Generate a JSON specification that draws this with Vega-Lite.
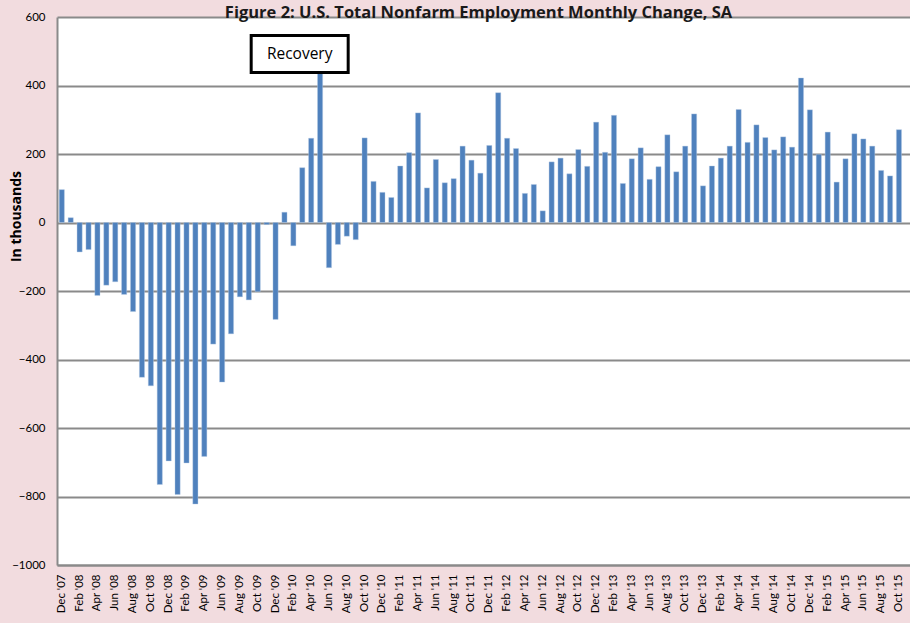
{
  "$schema": "https://vega.github.io/schema/vega-lite/v6.json",
  "width": 853,
  "height": 548,
  "autosize": {"type": "none"},
  "padding": {"left": 57, "top": 17, "right": 0, "bottom": 58},
  "background": "#F2DCDF",
  "config": {
    "font": "Lato",
    "view": {"stroke": null, "fill": "white"}
  },
  "title": {
    "text": "Figure 2: U.S. Total Nonfarm Employment Monthly Change, SA",
    "font": "Open Sans",
    "fontSize": 16.5,
    "fontWeight": "bold",
    "color": "#1a1a1a",
    "anchor": "middle",
    "offset": -7,
    "dy": 3,
    "dx": -5
  },
  "datasets": {
    "jobs": [
      {"m": "Dec '07", "v": 96},
      {"m": "Jan '08", "v": 14},
      {"m": "Feb '08", "v": -86},
      {"m": "Mar '08", "v": -79},
      {"m": "Apr '08", "v": -213},
      {"m": "May '08", "v": -183},
      {"m": "Jun '08", "v": -173},
      {"m": "Jul '08", "v": -210},
      {"m": "Aug '08", "v": -260},
      {"m": "Sep '08", "v": -452},
      {"m": "Oct '08", "v": -477},
      {"m": "Nov '08", "v": -765},
      {"m": "Dec '08", "v": -696},
      {"m": "Jan '09", "v": -794},
      {"m": "Feb '09", "v": -702},
      {"m": "Mar '09", "v": -822},
      {"m": "Apr '09", "v": -683},
      {"m": "May '09", "v": -355},
      {"m": "Jun '09", "v": -466},
      {"m": "Jul '09", "v": -325},
      {"m": "Aug '09", "v": -217},
      {"m": "Sep '09", "v": -226},
      {"m": "Oct '09", "v": -202},
      {"m": "Nov '09", "v": -6},
      {"m": "Dec '09", "v": -283},
      {"m": "Jan '10", "v": 30},
      {"m": "Feb '10", "v": -68},
      {"m": "Mar '10", "v": 160},
      {"m": "Apr '10", "v": 246},
      {"m": "May '10", "v": 440},
      {"m": "Jun '10", "v": -132},
      {"m": "Jul '10", "v": -64},
      {"m": "Aug '10", "v": -40},
      {"m": "Sep '10", "v": -50},
      {"m": "Oct '10", "v": 247},
      {"m": "Nov '10", "v": 120},
      {"m": "Dec '10", "v": 88},
      {"m": "Jan '11", "v": 73},
      {"m": "Feb '11", "v": 165},
      {"m": "Mar '11", "v": 204},
      {"m": "Apr '11", "v": 320},
      {"m": "May '11", "v": 101},
      {"m": "Jun '11", "v": 184},
      {"m": "Jul '11", "v": 116},
      {"m": "Aug '11", "v": 128},
      {"m": "Sep '11", "v": 223},
      {"m": "Oct '11", "v": 182},
      {"m": "Nov '11", "v": 144},
      {"m": "Dec '11", "v": 225},
      {"m": "Jan '12", "v": 379},
      {"m": "Feb '12", "v": 246},
      {"m": "Mar '12", "v": 216},
      {"m": "Apr '12", "v": 85},
      {"m": "May '12", "v": 111},
      {"m": "Jun '12", "v": 34},
      {"m": "Jul '12", "v": 177},
      {"m": "Aug '12", "v": 188},
      {"m": "Sep '12", "v": 142},
      {"m": "Oct '12", "v": 213},
      {"m": "Nov '12", "v": 164},
      {"m": "Dec '12", "v": 293},
      {"m": "Jan '13", "v": 205},
      {"m": "Feb '13", "v": 313},
      {"m": "Mar '13", "v": 114},
      {"m": "Apr '13", "v": 186},
      {"m": "May '13", "v": 218},
      {"m": "Jun '13", "v": 126},
      {"m": "Jul '13", "v": 163},
      {"m": "Aug '13", "v": 256},
      {"m": "Sep '13", "v": 148},
      {"m": "Oct '13", "v": 223},
      {"m": "Nov '13", "v": 317},
      {"m": "Dec '13", "v": 107},
      {"m": "Jan '14", "v": 165},
      {"m": "Feb '14", "v": 188},
      {"m": "Mar '14", "v": 223},
      {"m": "Apr '14", "v": 330},
      {"m": "May '14", "v": 234},
      {"m": "Jun '14", "v": 285},
      {"m": "Jul '14", "v": 248},
      {"m": "Aug '14", "v": 212},
      {"m": "Sep '14", "v": 250},
      {"m": "Oct '14", "v": 220},
      {"m": "Nov '14", "v": 422},
      {"m": "Dec '14", "v": 329},
      {"m": "Jan '15", "v": 199},
      {"m": "Feb '15", "v": 264},
      {"m": "Mar '15", "v": 118},
      {"m": "Apr '15", "v": 186},
      {"m": "May '15", "v": 259},
      {"m": "Jun '15", "v": 244},
      {"m": "Jul '15", "v": 223},
      {"m": "Aug '15", "v": 152},
      {"m": "Sep '15", "v": 136},
      {"m": "Oct '15", "v": 271}
    ],
    "note": [{"m": "Mar '10", "y": 492, "label": "Recovery"}]
  },
  "layer": [
    {
      "data": {"name": "jobs"},
      "mark": {"type": "bar", "color": "#4F81BD", "stroke": "#B9CDE5", "strokeWidth": 0.4},
      "encoding": {
        "x": {
          "field": "m",
          "type": "ordinal",
          "sort": null,
          "scale": {"paddingInner": 0.42, "paddingOuter": 0.6, "align": 0.208},
          "axis": {
            "title": null,
            "values": ["Dec '07","Feb '08","Apr '08","Jun '08","Aug '08","Oct '08","Dec '08","Feb '09","Apr '09","Jun '09","Aug '09","Oct '09","Dec '09","Feb '10","Apr '10","Jun '10","Aug '10","Oct '10","Dec '10","Feb '11","Apr '11","Jun '11","Aug '11","Oct '11","Dec '11","Feb '12","Apr '12","Jun '12","Aug '12","Oct '12","Dec '12","Feb '13","Apr '13","Jun '13","Aug '13","Oct '13","Dec '13","Feb '14","Apr '14","Jun '14","Aug '14","Oct '14","Dec '14","Feb '15","Apr '15","Jun '15","Aug '15","Oct '15"],
            "labelAngle": 270,
            "labelAlign": "right",
            "labelBaseline": "middle",
            "labelFont": "Lato",
            "labelFontSize": 11.5,
            "labelColor": "#000000",
            "labelPadding": 9,
            "ticks": false,
            "domain": true,
            "domainColor": "#8A8A8A",
            "domainWidth": 2,
            "grid": false
          }
        },
        "y": {
          "field": "v",
          "type": "quantitative",
          "scale": {"domain": [-1000, 600], "nice": false, "zero": true},
          "axis": {
            "title": "In thousands",
            "titleFont": "Open Sans",
            "titleFontSize": 14,
            "titleFontWeight": "bold",
            "titleColor": "#000000",
            "titleAngle": 270,
            "titleAlign": "center",
            "titleBaseline": "middle",
            "titleX": -41,
            "titleY": 199,
            "values": [-1000, -800, -600, -400, -200, 0, 200, 400, 600],
            "format": "d",
            "labelFont": "Lato",
            "labelFontSize": 11.5,
            "labelColor": "#000000",
            "labelPadding": 12,
            "ticks": false,
            "domain": true,
            "domainColor": "#8A8A8A",
            "domainWidth": 2,
            "grid": true,
            "gridColor": "#8A8A8A",
            "gridWidth": 2
          }
        }
      }
    },
    {
      "data": {"name": "note"},
      "mark": {
        "type": "point",
        "shape": "M-0.97,-0.37H0.97V0.37H-0.97Z",
        "size": 10000,
        "filled": true,
        "fill": "white",
        "stroke": "black",
        "strokeWidth": 3,
        "opacity": 1
      },
      "encoding": {
        "x": {"field": "m", "type": "ordinal", "sort": null, "bandPosition": 0},
        "y": {"field": "y", "type": "quantitative"}
      }
    },
    {
      "data": {"name": "note"},
      "mark": {"type": "text", "font": "Open Sans", "fontSize": 15.5, "color": "black", "baseline": "middle", "align": "center"},
      "encoding": {
        "x": {"field": "m", "type": "ordinal", "sort": null, "bandPosition": 0},
        "y": {"field": "y", "type": "quantitative"},
        "text": {"field": "label"}
      }
    }
  ]
}
